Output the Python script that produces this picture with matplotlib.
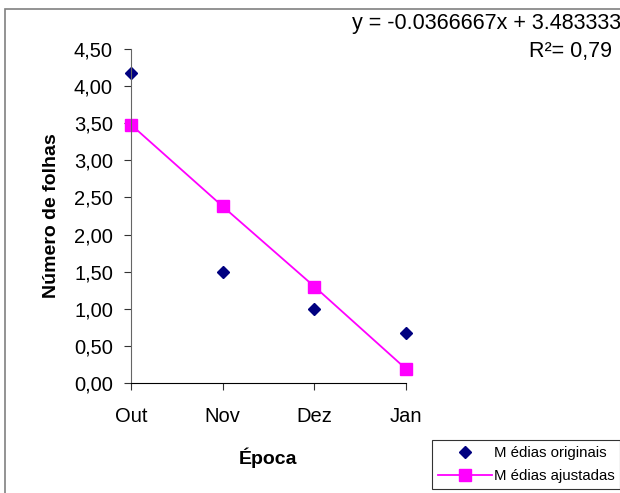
import matplotlib.pyplot as plt
from matplotlib.patches import Rectangle

meses = ["Out", "Nov", "Dez", "Jan"]
originais = [4.18, 1.50, 1.00, 0.67]
ajustadas = [3.48, 2.38, 1.30, 0.19]
yticks = [0, 0.5, 1, 1.5, 2, 2.5, 3, 3.5, 4, 4.5]

plt.rcParams['font.family'] = ['Liberation Sans', 'DejaVu Sans']

fig = plt.figure(figsize=(6.2, 4.93), dpi=100)
ax = fig.add_axes([131/620, 1-383/493, 275/620, 334/493])

x = list(range(len(meses)))
ax.plot(x, originais, 'D', color='#000080', markersize=6.5, linestyle='none', label="M édias originais", clip_on=False)
ax.plot(x, ajustadas, '-s', color='#FF00FF', markersize=8, linewidth=1.3, label="M édias ajustadas", clip_on=False)

ax.set_xlim(0, 3)
ax.set_ylim(0, 4.5)
ax.set_xticks(x)
ax.set_xticklabels(meses)
ax.set_yticks(yticks)
ax.set_yticklabels([("%.2f" % v).replace(".", ",") for v in yticks])
ax.tick_params(axis='both', labelsize=14.5, direction='out', length=5, width=0.8, color='#333333')
ax.tick_params(axis='x', pad=12)
ax.tick_params(axis='y', pad=8)
for s in ['top', 'right']:
    ax.spines[s].set_visible(False)
ax.spines['left'].set_color('#666666')
ax.spines['bottom'].set_color('black')

ax.set_ylabel("Número de folhas", fontsize=14, fontweight='bold', labelpad=10)
ax.set_xlabel("Época", fontsize=14, fontweight='bold', labelpad=16)

fig.text(352/620, 1-23/493, "y = -0.0366667x + 3.483333", fontsize=15.5, va='center', ha='left')
fig.text(529/620, 1-52/493, "R²= 0,79", fontsize=15.5, va='center', ha='left')

leg = fig.legend(loc='upper left', bbox_to_anchor=(432/620, 1-440/493), fontsize=10.8,
                 frameon=True, fancybox=False, edgecolor='black', borderpad=0.4,
                 handlelength=3.6, handletextpad=0.1, labelspacing=0.6, borderaxespad=0)
leg.get_frame().set_linewidth(0.8)

fig.add_artist(Rectangle((5/620, -0.1), 1.2, 1-9/493+0.1, transform=fig.transFigure,
                         fill=False, edgecolor='#808080', linewidth=1.2))

fig.savefig("out.png", dpi=100)
